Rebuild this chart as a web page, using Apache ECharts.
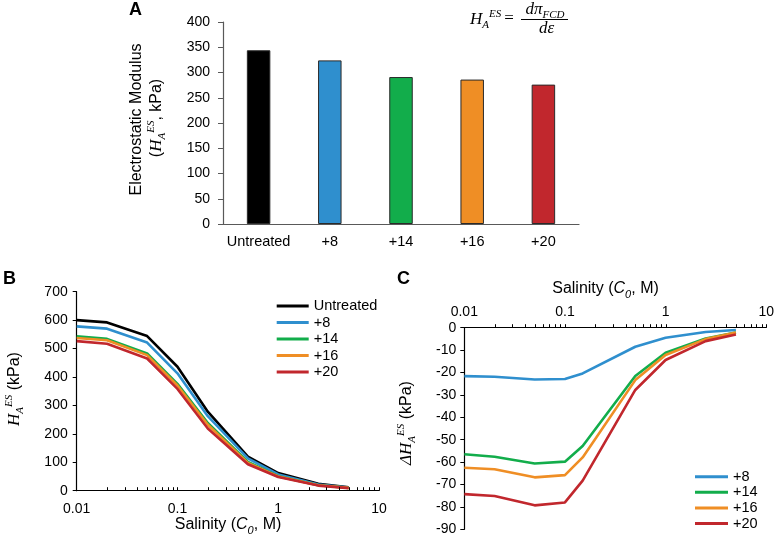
<!DOCTYPE html>
<html><head><meta charset="utf-8">
<script src="https://cdn.jsdelivr.net/npm/echarts@6/dist/echarts.min.js"></script>
<style>html,body{margin:0;padding:0;background:#fff}#c{width:777px;height:542px}</style>
</head><body><div id="c"></div>
<script>
// ---- Panel A data ----
const barCategories = ['Untreated', '+8', '+14', '+16', '+20'];
const barValues = [344, 324, 291, 286, 276];
const barColors = ['#000000', '#2f8fce', '#12ad4b', '#ef8e25', '#c1272d'];

// ---- Panel B data ----
const salinityB = [0.01, 0.02, 0.05, 0.1, 0.2, 0.5, 1, 2.5, 5];
const hUntreated = [600, 592, 544, 436, 278, 120, 62, 24, 12];
const hPlus8 = [578, 570, 521, 413, 262, 114, 57, 22, 11];
const hPlus14 = [543, 534, 483, 376, 238, 101, 51, 19, 10];
const hPlus16 = [537, 529, 477, 370, 232, 98, 50, 19, 10];
const hPlus20 = [526, 517, 465, 358, 219, 93, 48, 18, 9];

// ---- Panel C data ----
const salinityC = [0.01, 0.02, 0.05, 0.1, 0.15, 0.5, 1, 2.5, 5];
const dPlus8 = [-21.6, -21.9, -23.1, -22.9, -20.4, -8.5, -4.5, -1.9, -1.0];
const dPlus14 = [-56.5, -57.6, -60.6, -59.8, -52.8, -21.6, -11.2, -4.8, -2.1];
const dPlus16 = [-62.5, -63.2, -66.8, -65.8, -57.9, -23.4, -12.2, -5.1, -2.2];
const dPlus20 = [-74.3, -75.1, -79.3, -78.0, -68.3, -27.8, -14.4, -6.0, -3.0];

// ---- tick labels / tick positions ----
const logTickLabels = {'-2': '0.01', '-1': '0.1', '0': '1', '1': '10'};
const logTickValues = [0.02, 0.03, 0.04, 0.05, 0.06, 0.07, 0.08, 0.09, 0.1,
  0.2, 0.3, 0.4, 0.5, 0.6, 0.7, 0.8, 0.9, 1,
  2, 3, 4, 5, 6, 7, 8, 9, 10];
const legendB = ['Untreated', '+8', '+14', '+16', '+20'];
const legendC = ['+8', '+14', '+16', '+20'];

const SANS = '"Liberation Sans", Arial, sans-serif';
const SERIF = '"Liberation Serif", "DejaVu Serif", serif';

const rich = {
  n: {fontFamily: SANS, fontSize: 16, color: '#000', lineHeight: 22},
  h: {fontFamily: SERIF, fontStyle: 'italic', fontSize: 17, color: '#000', lineHeight: 22},
  sub: {fontFamily: SERIF, fontStyle: 'italic', fontSize: 11, color: '#000', lineHeight: 11, verticalAlign: 'bottom'},
  sup: {fontFamily: SERIF, fontStyle: 'italic', fontSize: 11, color: '#000', lineHeight: 11, verticalAlign: 'top'},
  ci: {fontFamily: SANS, fontStyle: 'italic', fontSize: 16, color: '#000', lineHeight: 22},
  csub: {fontFamily: SANS, fontStyle: 'italic', fontSize: 11, color: '#000', lineHeight: 11, verticalAlign: 'bottom'},
  eq: {fontFamily: SERIF, fontSize: 17, color: '#000', lineHeight: 22}
};

function txt(x, y, text, rot, align) {
  return {
    type: 'text', x: x, y: y, rotation: rot || 0,
    style: {text: text, rich: rich, x: 0, y: 0, align: align || 'center', verticalAlign: 'middle',
      fontFamily: SANS, fontSize: 16, fill: '#000'}
  };
}
function panel(x, y, t) {
  return {type: 'text', x: x, y: y,
    style: {text: t, x: 0, y: 0, align: 'left', verticalAlign: 'middle', fontFamily: SANS, fontSize: 18, fontWeight: 'bold', fill: '#000'}};
}

const logFmt = v => logTickLabels[String(Math.round(Math.log10(v)))] || '';
const axisText = {fontFamily: SANS, fontSize: 14, color: '#000'};

function lineSeries(name, xs, ys, color, xi) {
  return {
    type: 'line', name: name, xAxisIndex: xi, yAxisIndex: xi,
    data: xs.map((x, i) => [x, ys[i]]),
    showSymbol: false, symbol: 'none', lineStyle: {color: color, width: 2.6}, itemStyle: {color: color},
    silent: true, animation: false
  };
}
function tickSeries(xi) {
  return {
    type: 'custom', xAxisIndex: xi, yAxisIndex: xi, silent: true, clip: false, z: 5,
    data: logTickValues.map(v => [v, 0]),
    renderItem: function (params, api) {
      const p = api.coord([api.value(0), api.value(1)]);
      const x = Math.round(p[0]) + 0.5;
      return {type: 'line', shape: {x1: x, y1: p[1], x2: x, y2: p[1] - 3.5},
        style: {stroke: '#000', lineWidth: 1}};
    }
  };
}

const chart = echarts.init(document.getElementById('c'), null, {renderer: 'canvas'});
chart.setOption({
  animation: false,
  backgroundColor: '#fff',
  grid: [
    {left: 223, top: 22, width: 356, height: 202},
    {left: 76.7, top: 291.7, width: 302.3, height: 199},
    {left: 464.3, top: 327.7, width: 303.4, height: 201.6}
  ],
  xAxis: [
    {gridIndex: 0, type: 'category', data: barCategories,
      axisLine: {lineStyle: {color: '#595959', width: 1.2}}, axisTick: {show: false},
      axisLabel: {fontFamily: SANS, fontSize: 14.5, color: '#000', margin: 10, interval: 0}},
    {gridIndex: 1, type: 'log', logBase: 10, min: 0.01, max: 10,
      axisLine: {lineStyle: {color: '#000', width: 1.2}},
      axisTick: {show: false}, minorTick: {show: false},
      splitLine: {show: false}, minorSplitLine: {show: false},
      axisLabel: Object.assign({margin: 11, formatter: logFmt, showMinLabel: true, showMaxLabel: true}, axisText)},
    {gridIndex: 2, type: 'log', logBase: 10, min: 0.01, max: 10, position: 'top',
      axisLine: {onZero: false, lineStyle: {color: '#000', width: 1.2}},
      axisTick: {show: false}, minorTick: {show: false},
      splitLine: {show: false}, minorSplitLine: {show: false},
      axisLabel: Object.assign({margin: 9, formatter: logFmt, showMinLabel: true, showMaxLabel: true}, axisText)}
  ],
  yAxis: [
    {gridIndex: 0, type: 'value', min: 0, max: 400, interval: 50,
      axisLine: {show: true, lineStyle: {color: '#595959', width: 1.2}},
      axisTick: {show: true, length: 5, lineStyle: {color: '#595959'}},
      splitLine: {show: false}, axisLabel: Object.assign({margin: 13}, axisText)},
    {gridIndex: 1, type: 'value', min: 0, max: 700, interval: 100,
      axisLine: {show: true, lineStyle: {color: '#000', width: 1.2}},
      axisTick: {show: true, length: 4, lineStyle: {color: '#000'}},
      splitLine: {show: false}, axisLabel: Object.assign({margin: 9}, axisText)},
    {gridIndex: 2, type: 'value', min: -90, max: 0, interval: 10,
      axisLine: {show: true, lineStyle: {color: '#000', width: 1.2}},
      axisTick: {show: true, length: 4, lineStyle: {color: '#000'}},
      splitLine: {show: false}, axisLabel: Object.assign({margin: 8}, axisText)}
  ],
  legend: [
    {data: legendB, orient: 'vertical', left: 276.7, top: 298, padding: 0, itemGap: 0.5,
      icon: 'rect', itemWidth: 32, itemHeight: 3, selectedMode: false,
      textStyle: {fontFamily: SANS, fontSize: 14.5, color: '#000', lineHeight: 16}},
    {data: legendC, orient: 'vertical', left: 695, top: 468.9, padding: 0, itemGap: 0,
      icon: 'rect', itemWidth: 33, itemHeight: 3, selectedMode: false,
      textStyle: {fontFamily: SANS, fontSize: 14.5, color: '#000', lineHeight: 15.6}}
  ],
  series: [
    {type: 'bar', xAxisIndex: 0, yAxisIndex: 0, barWidth: 23.5, silent: true,
      data: barValues.map((v, i) => ({value: v, itemStyle: {color: barColors[i]}})),
      itemStyle: {borderColor: '#2a2a2a', borderWidth: 1}},
    lineSeries('Untreated', salinityB, hUntreated, '#000000', 1),
    lineSeries('+8', salinityB, hPlus8, '#2f8fce', 1),
    lineSeries('+14', salinityB, hPlus14, '#12ad4b', 1),
    lineSeries('+16', salinityB, hPlus16, '#ef8e25', 1),
    lineSeries('+20', salinityB, hPlus20, '#c1272d', 1),
    lineSeries('+8', salinityC, dPlus8, '#2f8fce', 2),
    lineSeries('+14', salinityC, dPlus14, '#12ad4b', 2),
    lineSeries('+16', salinityC, dPlus16, '#ef8e25', 2),
    lineSeries('+20', salinityC, dPlus20, '#c1272d', 2),
    tickSeries(1),
    tickSeries(2)
  ],
  graphic: [
    panel(129, 10, 'A'),
    panel(3, 279.5, 'B'),
    panel(397, 279.5, 'C'),
    txt(137, 119.5, '{n|Electrostatic Modulus}', Math.PI / 2),
    txt(157, 118, '{n|(}{h|H}{sub|A}{sup|ES}{n|, kPa)}', Math.PI / 2),
    txt(15, 389, '{h|H}{sub|A}{sup|ES}{n| (kPa)}', Math.PI / 2),
    txt(407, 423, '{h|ΔH}{sub|A}{sup|ES}{n| (kPa)}', Math.PI / 2),
    txt(228, 525, '{n|Salinity (}{ci|C}{csub|0}{n|, M)}', 0),
    txt(605.5, 289, '{n|Salinity (}{ci|C}{csub|0}{n|, M)}', 0),
    // formula
    txt(470, 20, '{h|H}{sub|A}{sup|ES}', 0, 'left'),
    txt(509, 19, '{eq|=}', 0),
    txt(545, 10, '{h|dπ}{sub|FCD}', 0),
    {type: 'line', shape: {x1: 521, y1: 19.5, x2: 568, y2: 19.5}, style: {stroke: '#000', lineWidth: 1}},
    txt(546.5, 29, '{h|dε}', 0)
  ]
});
</script>
</body></html>
